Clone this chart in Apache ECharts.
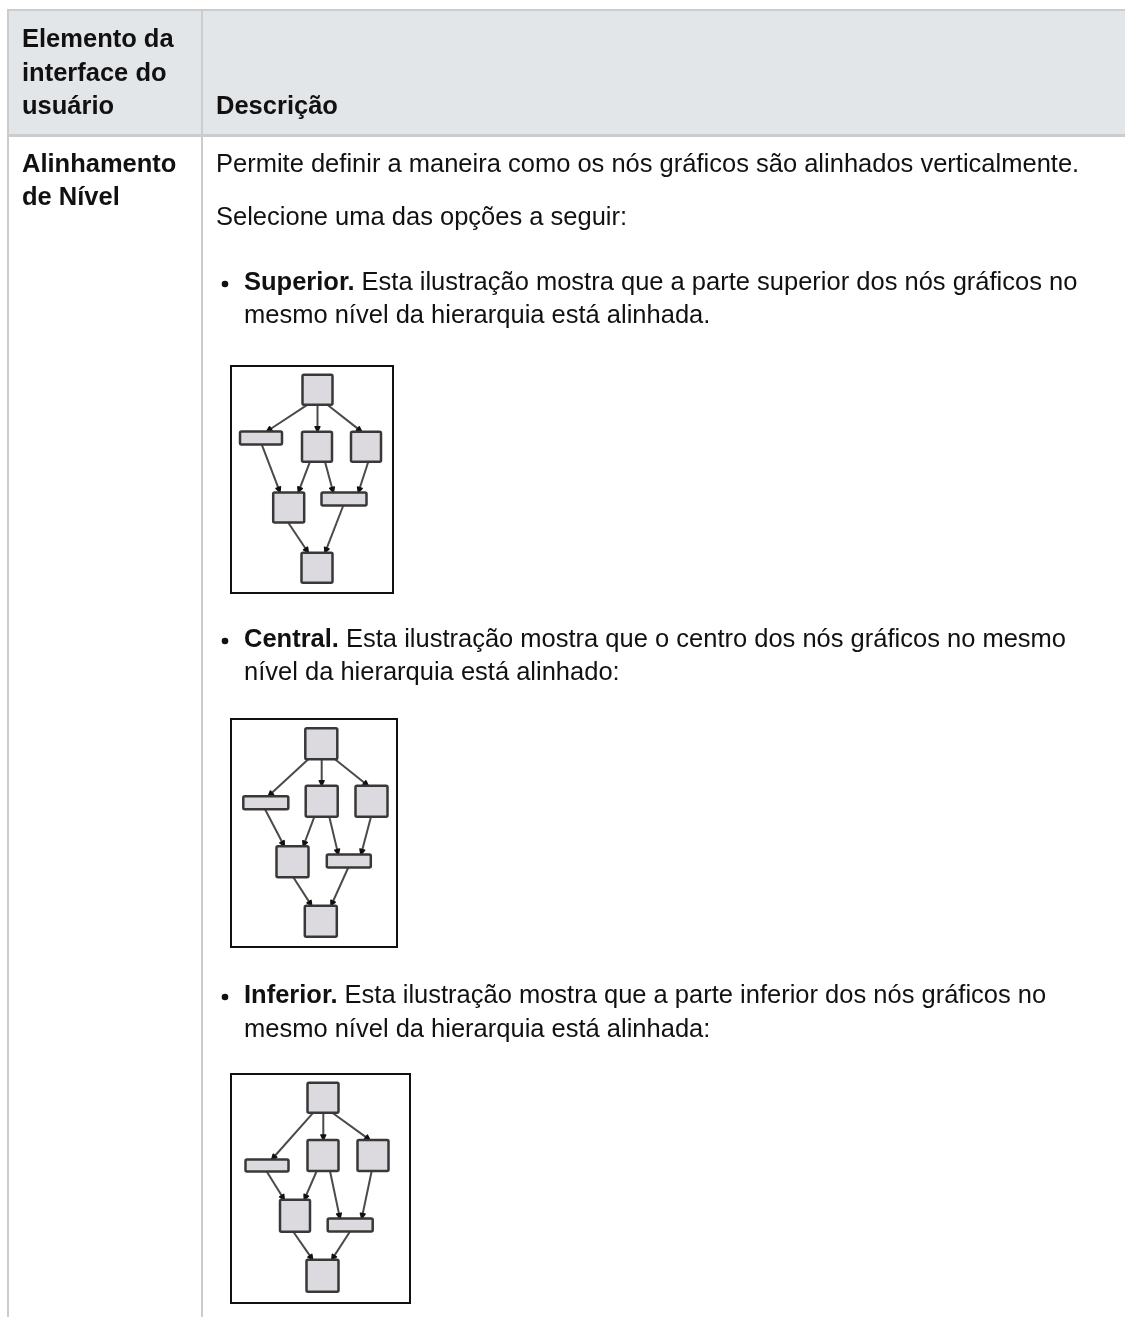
<!DOCTYPE html>
<html>
<head>
<meta charset="utf-8">
<script src="https://cdn.jsdelivr.net/npm/echarts@6/dist/echarts.min.js"></script>
<style>
html,body{margin:0;padding:0;background:#fff;}
#chart{width:1125px;height:1317px;}
</style>
</head>
<body>
<div id="chart"></div>
<script>
// ---- Data ----
var headerCol1 = ['Elemento da', 'interface do', 'usuário'];
var headerCol2 = 'Descrição';
var rowLabel = ['Alinhamento', 'de Nível'];
var introLines = ['Permite definir a maneira como os nós gráficos são alinhados verticalmente.',
                  'Selecione uma das opções a seguir:'];
var bulletTitles = ['Superior.', 'Central.', 'Inferior.'];
var bulletLine1 = [' Esta ilustração mostra que a parte superior dos nós gráficos no',
                   ' Esta ilustração mostra que o centro dos nós gráficos no mesmo',
                   ' Esta ilustração mostra que a parte inferior dos nós gráficos no'];
var bulletLine2 = ['mesmo nível da hierarquia está alinhada.',
                   'nível da hierarquia está alinhado:',
                   'mesmo nível da hierarquia está alinhada:'];

// diagram extents (local units)
var diagramSize = [[162, 227], [166, 228], [179, 229]];

// nodes: [cx, cy, w, h] per diagram
var nodesTop = [[86.5, 23.7, 30, 30], [30, 72, 42, 13], [86, 80.7, 30, 30], [135, 80.7, 30, 30],
                [57.7, 141.5, 31, 30], [113, 133, 45, 13], [86, 201.7, 31, 30]];
var nodesCenter = [[90.3, 24.7, 32, 31], [34.8, 83.7, 45, 13], [90.7, 82.3, 32, 31], [140.5, 82.3, 32, 31],
                   [61.5, 142.7, 32, 31], [117.8, 142, 44, 13], [89.8, 202.3, 32, 31]];
var nodesBottom = [[92, 23.7, 31, 30], [36, 91.5, 43, 12], [92, 81.5, 31, 31], [142, 81.5, 31, 31],
                   [64, 141.8, 30, 32], [119.2, 151, 45, 13], [91.5, 201.8, 32, 32]];

// edges: [x1, y1, x2, y2] per diagram
var edgesTop = [[77, 38.3, 35.7, 65.5], [86.5, 38.3, 86.5, 65.7], [95.7, 38.3, 130.7, 65.7],
                [30.7, 78.3, 49, 126.3], [79, 95.7, 67.3, 126.3], [94, 95.7, 102.3, 126.5],
                [137.3, 95.7, 127.3, 126.5], [57.3, 156.7, 77.3, 186.7], [112.3, 139.5, 94, 186.7]];
var edgesCenter = [[77.3, 40.2, 37.3, 77.2], [90.7, 40.2, 90.7, 66.8], [104, 40.2, 137.3, 66.8],
                   [34, 90.2, 53.3, 127.2], [83.3, 97.8, 72.3, 127.2], [98.3, 97.8, 107.3, 135.5],
                   [140, 97.8, 130, 135.5], [62.3, 158.2, 80.7, 186.8], [117.3, 148.5, 100, 186.8]];
var edgesBottom = [[82.3, 38.7, 40.7, 85.5], [92.3, 38.7, 92.3, 66], [101.3, 38.7, 139, 66],
                   [35.7, 97.5, 53.3, 125.8], [85.7, 97, 73.3, 125.8], [99, 97, 109, 144.5],
                   [140.7, 97, 130.7, 144.5], [62.3, 157.8, 81.7, 185.8], [119, 157.5, 100.7, 185.8]];

var allNodes = [nodesTop, nodesCenter, nodesBottom];
var allEdges = [edgesTop, edgesCenter, edgesBottom];

// ---- Layout / style ----
var FONT = '"Liberation Sans", Arial, Helvetica, sans-serif';
var FS = 25.5;
var FSB = 25.5;
var TXT = '#111';
var gridPos = [[231, 366], [231, 719], [231, 1074]];
var bulletY = [[283, 316], [640, 673], [996, 1030]];
var BX = 244;

var chart = echarts.init(document.getElementById('chart'), null, {renderer: 'canvas'});

var graphics = [];
// table background & lines
graphics.push({type: 'rect', shape: {x: 8, y: 10, width: 1117, height: 125}, style: {fill: '#e3e6e8'}, z: 0});
graphics.push({type: 'rect', shape: {x: 7, y: 9, width: 1118, height: 2}, style: {fill: '#cccccc'}, z: 1});
graphics.push({type: 'rect', shape: {x: 7, y: 134, width: 1118, height: 3}, style: {fill: '#cccccc'}, z: 1});
graphics.push({type: 'rect', shape: {x: 7, y: 9, width: 2, height: 1308}, style: {fill: '#cccccc'}, z: 1});
graphics.push({type: 'rect', shape: {x: 201, y: 9, width: 2, height: 1308}, style: {fill: '#cccccc'}, z: 1});

function txt(x, y, s, bold) {
  return {type: 'text', x: x, y: y, z: 5,
    style: {text: s, fill: TXT, font: (bold ? 'bold ' + FSB : FS) + 'px ' + FONT, textVerticalAlign: 'middle'}};
}
var hy = [40, 74, 107];
headerCol1.forEach(function (s, i) { graphics.push(txt(22, hy[i], s, true)); });
graphics.push(txt(216, 107, headerCol2, true));
graphics.push(txt(22, 165, rowLabel[0], true));
graphics.push(txt(22, 198, rowLabel[1], true));
graphics.push(txt(216, 165, introLines[0], false));
graphics.push(txt(216, 218, introLines[1], false));
bulletTitles.forEach(function (t, i) {
  graphics.push({type: 'circle', shape: {cx: 225, cy: bulletY[i][0] + 1, r: 3.3}, style: {fill: TXT}, z: 5});
  graphics.push({type: 'text', x: BX, y: bulletY[i][0], z: 5,
    style: {text: '{b|' + t + '}{r|' + bulletLine1[i] + '}', textVerticalAlign: 'middle',
      rich: {b: {font: 'bold ' + FSB + 'px ' + FONT, fill: TXT}, r: {font: FS + 'px ' + FONT, fill: TXT}}}});
  graphics.push(txt(BX, bulletY[i][1], bulletLine2[i], false));
});

var grids = [], xAxes = [], yAxes = [], series = [];
diagramSize.forEach(function (sz, i) {
  grids.push({left: gridPos[i][0], top: gridPos[i][1], width: sz[0], height: sz[1],
    show: true, backgroundColor: '#fff', borderColor: '#111', borderWidth: 2});
  xAxes.push({gridIndex: i, type: 'value', min: 0, max: sz[0], show: false});
  yAxes.push({gridIndex: i, type: 'value', min: 0, max: sz[1], inverse: true, show: false});
  series.push({
    type: 'custom', xAxisIndex: i, yAxisIndex: i, z: 3,
    data: allEdges[i],
    renderItem: function (params, api) {
      var p1 = api.coord([api.value(0), api.value(1)]);
      var p2 = api.coord([api.value(2), api.value(3)]);
      var dx = p2[0] - p1[0], dy = p2[1] - p1[1], L = Math.sqrt(dx * dx + dy * dy);
      var ux = dx / L, uy = dy / L;
      var tip = [p2[0], p2[1]];
      var base = [p2[0] - ux * 5, p2[1] - uy * 5];
      var nx = -uy * 2.4, ny = ux * 2.4;
      return {type: 'group', children: [
        {type: 'line', shape: {x1: p1[0], y1: p1[1], x2: base[0], y2: base[1]},
          style: {stroke: '#4a4a4a', lineWidth: 2}},
        {type: 'polygon', shape: {points: [tip, [base[0] + nx, base[1] + ny], [base[0] - nx, base[1] - ny]]},
          style: {fill: '#111', stroke: '#111', lineWidth: 1.5, lineJoin: 'round'}}
      ]};
    }
  });
  series.push({
    type: 'custom', xAxisIndex: i, yAxisIndex: i, z: 4,
    data: allNodes[i],
    renderItem: function (params, api) {
      var c = api.coord([api.value(0), api.value(1)]);
      var s = api.size([api.value(2), api.value(3)]);
      return {type: 'rect', shape: {x: c[0] - s[0] / 2, y: c[1] - s[1] / 2, width: s[0], height: s[1], r: 1.5},
        style: {fill: '#dcdadf', stroke: '#383838', lineWidth: 2.5}};
    }
  });
});

chart.setOption({
  animation: false,
  backgroundColor: '#fff',
  grid: grids, xAxis: xAxes, yAxis: yAxes, series: series,
  graphic: {elements: graphics}
});
</script>
</body>
</html>
